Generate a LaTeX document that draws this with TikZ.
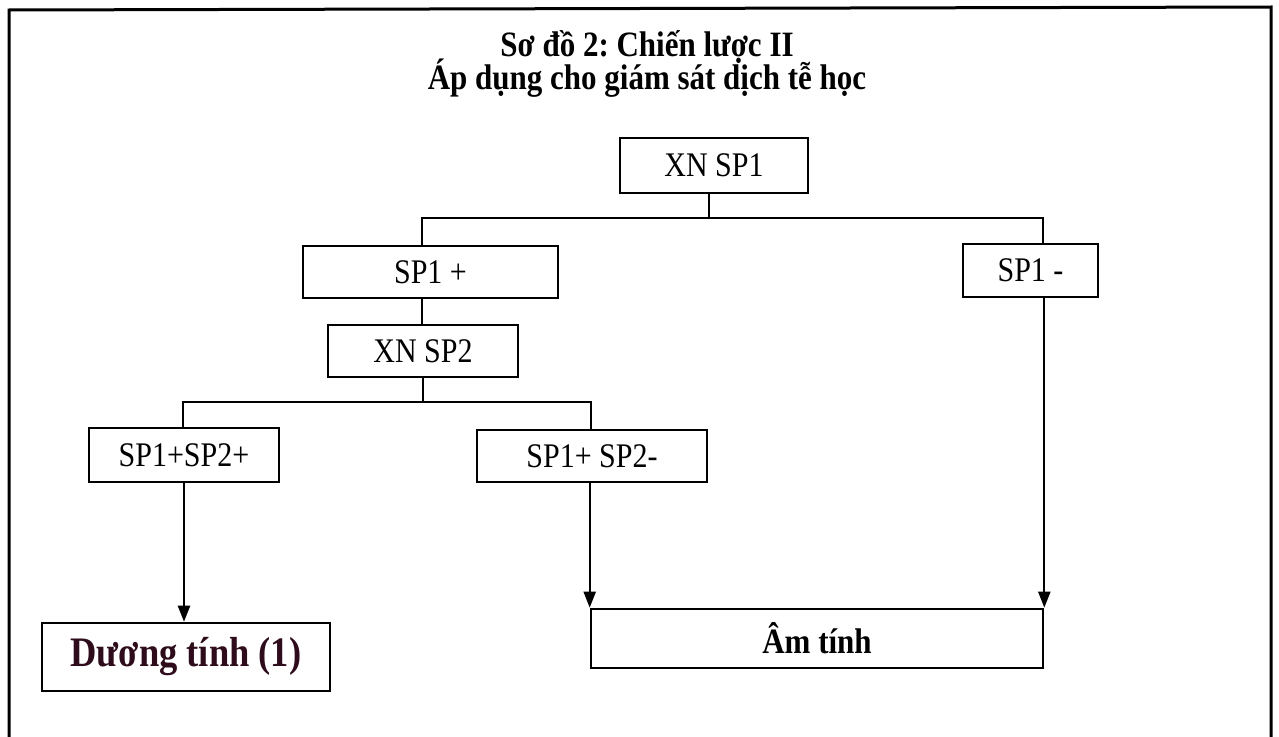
\documentclass[tikz,border=0pt]{standalone}
\usepackage{fontspec}
\setmainfont{Liberation Serif}
\usetikzlibrary{arrows.meta}
\definecolor{maroonink}{HTML}{2E0C1C}
\newcommand{\tallt}[1]{\scalebox{1}[1.15]{#1}}
\frenchspacing
\begin{document}
\begin{tikzpicture}[x=1pt,y=-1pt,
  box/.style={draw, line width=2.6pt, inner sep=0pt, font=\fontsize{30}{36}\selectfont},
  wire/.style={line width=2.4pt},
  arr/.style={line width=2.2pt, -{Triangle[length=16pt,width=12pt]}},
  ttl/.style={font=\bfseries\fontsize{31}{37}\selectfont, anchor=base, inner sep=0pt}]
\useasboundingbox (0,0) rectangle (1279,736);
\fill[white] (0,0) rectangle (1279,736);
% outer frame (bottom edge lies beyond the page)
\draw[line width=3pt] (9,745) -- (9,10) -- (1271,7) -- (1271,745);
% title
\node[ttl] (t1) at (647,56) {\tallt{Sơ đồ 2: Chiến lược II}};
\node[ttl] (t2) at (647,89) {\tallt{Áp dụng cho giám sát dịch tễ học}};
% boxes
\node[box, minimum width=188pt, minimum height=55pt] (xn1) at (714,165.5) {\tallt{XN SP1}};
\node[box, minimum width=255pt, minimum height=52pt] (sp1p) at (430.5,272) {\tallt{SP1 +}};
\node[box, minimum width=135pt, minimum height=53pt] (sp1m) at (1030.5,270.5) {\tallt{SP1 -}};
\node[box, minimum width=190pt, minimum height=52pt] (xn2) at (423,351) {\tallt{XN SP2}};
\node[box, minimum width=190pt, minimum height=54pt] (spp) at (184,455) {\tallt{SP1+SP2+}};
\node[box, minimum width=230pt, minimum height=52pt] (spm) at (592,456) {\tallt{SP1+ SP2-}};
\node[box, minimum width=288pt, minimum height=68pt, text=maroonink,
      font=\bfseries\fontsize{36.5}{42}\selectfont] (dt) at (186,657) {\tallt{Dương tính (1)}};
\node[box, minimum width=452pt, minimum height=59pt,
      font=\bfseries\fontsize{31}{37}\selectfont] (am) at (817,638.5) {\tallt{Âm tính}};
% junction coordinates
\coordinate (j1) at (709,218);
\coordinate (jL) at (422,218);
\coordinate (jR) at (1043,218);
\coordinate (k)  at (423,402);
\coordinate (kL) at (183,402);
\coordinate (kR) at (591,402);
% connectors
\draw[wire] (j1 |- xn1.south) -- (j1);
\draw[wire] (jL |- sp1p.north) -- (jL) -- (jR) -- (jR |- sp1m.north);
\draw[wire] (jL |- sp1p.south) -- (jL |- xn2.north);
\draw[wire] (xn2.south) -- (k);
\draw[wire] (kL |- spp.north) -- (kL) -- (kR) -- (kR |- spm.north);
\draw[arr] (spp.south) -- (spp.south |- dt.north);
\draw[arr] (am.north west |- spm.south) -- (am.north west);
\draw[arr] (am.north east |- sp1m.south) -- (am.north east);
\end{tikzpicture}
\end{document}
